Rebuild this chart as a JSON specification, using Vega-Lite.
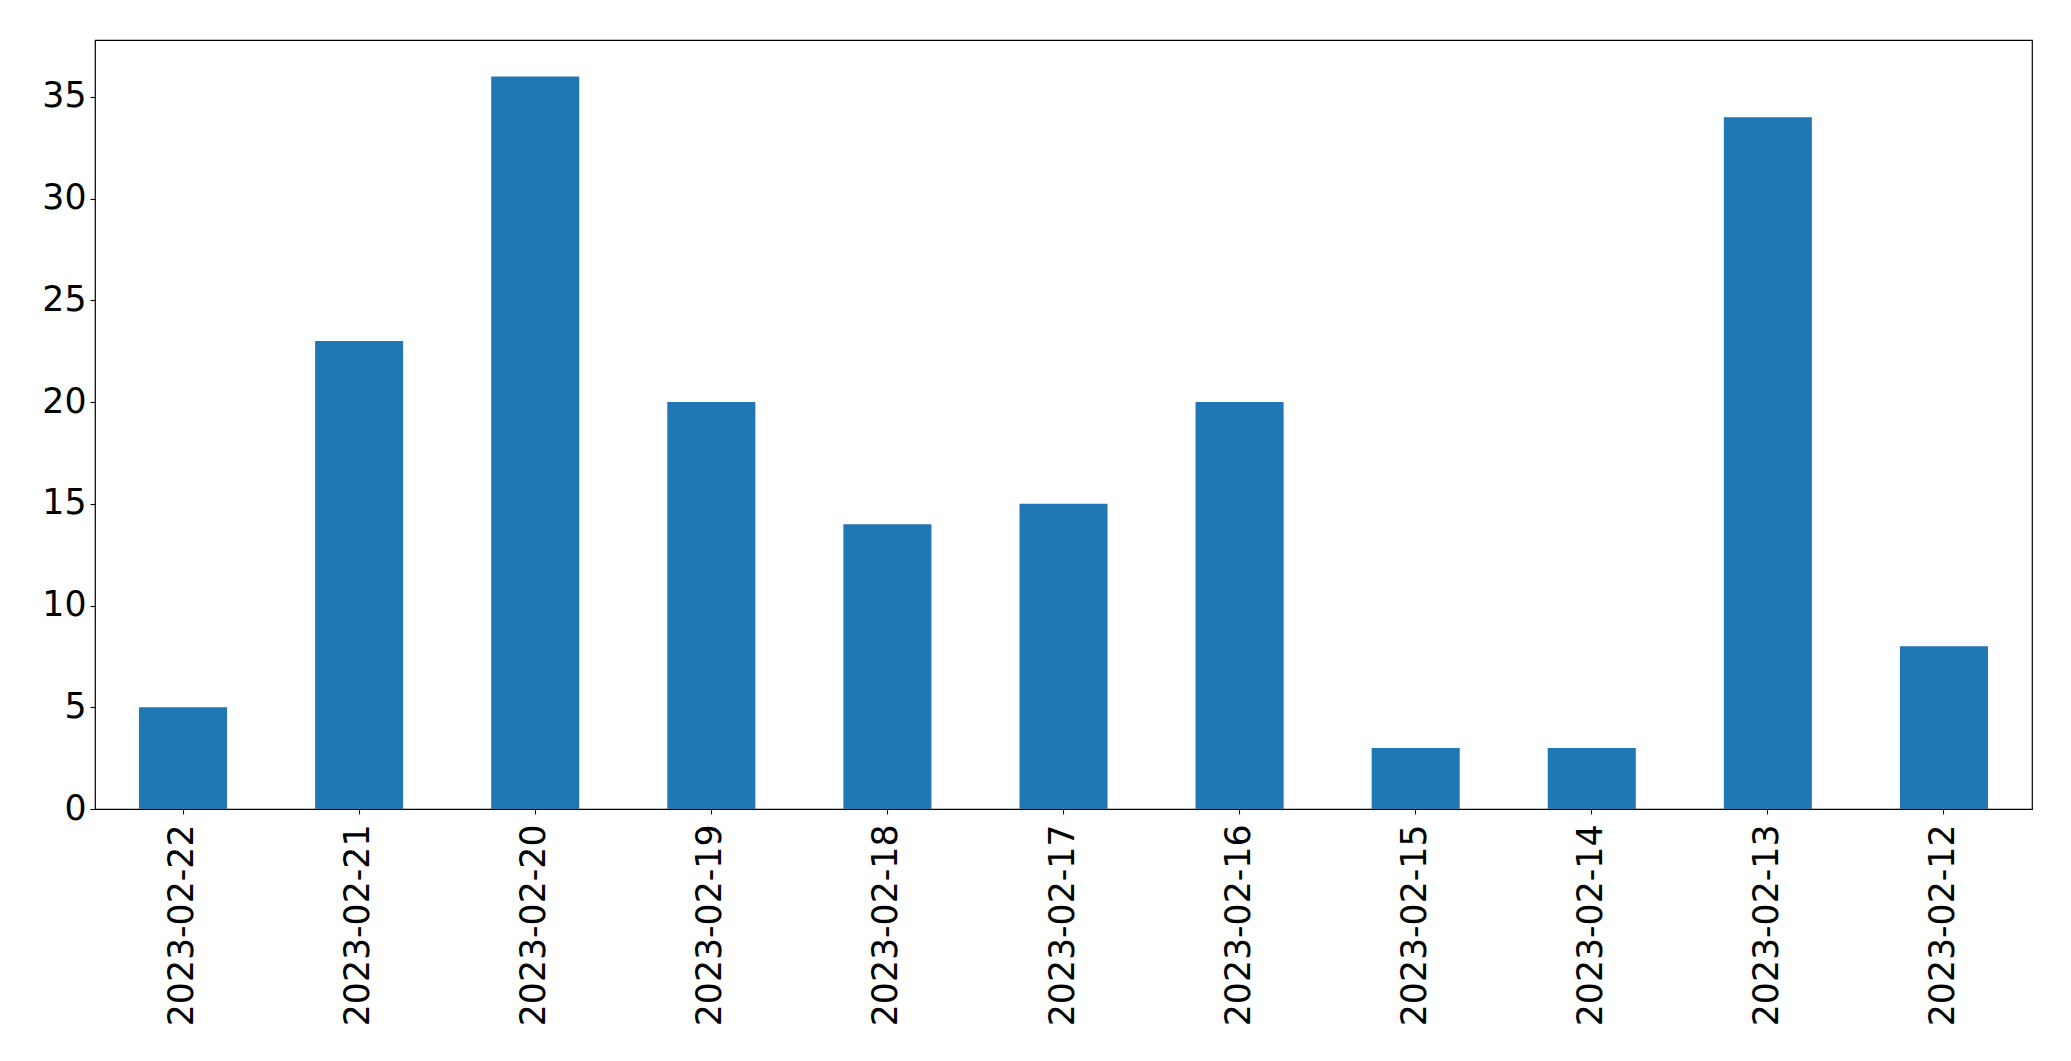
{
  "$schema": "https://vega.github.io/schema/vega-lite/v6.json",
  "width": 1937,
  "height": 769,
  "autosize": "none",
  "padding": {"left": 95, "top": 40, "right": 39, "bottom": 252},
  "background": "white",
  "config": {
    "view": {"stroke": "black", "strokeWidth": 1.2},
    "font": "DejaVu Sans",
    "axis": {
      "labelFont": "DejaVu Sans",
      "labelFontSize": 34.72,
      "labelColor": "black",
      "labelLimit": 0,
      "tickColor": "black",
      "tickSize": 5,
      "tickWidth": 1.1,
      "grid": false,
      "domain": false,
      "title": null
    }
  },
  "data": {
    "values": [
      {"date": "2023-02-22", "count": 5},
      {"date": "2023-02-21", "count": 23},
      {"date": "2023-02-20", "count": 36},
      {"date": "2023-02-19", "count": 20},
      {"date": "2023-02-18", "count": 14},
      {"date": "2023-02-17", "count": 15},
      {"date": "2023-02-16", "count": 20},
      {"date": "2023-02-15", "count": 3},
      {"date": "2023-02-14", "count": 3},
      {"date": "2023-02-13", "count": 34},
      {"date": "2023-02-12", "count": 8}
    ]
  },
  "mark": {"type": "bar", "color": "#1f77b4"},
  "encoding": {
    "x": {
      "field": "date",
      "type": "nominal",
      "sort": null,
      "scale": {"paddingInner": 0.5, "paddingOuter": 0.25},
      "axis": {"labelAngle": -90, "labelPadding": 10, "labelBaseline": "middle", "labelAlign": "right"}
    },
    "y": {
      "field": "count",
      "type": "quantitative",
      "scale": {"domain": [0, 37.8], "nice": false, "zero": true},
      "axis": {"values": [0, 5, 10, 15, 20, 25, 30, 35], "labelPadding": 4}
    }
  }
}
